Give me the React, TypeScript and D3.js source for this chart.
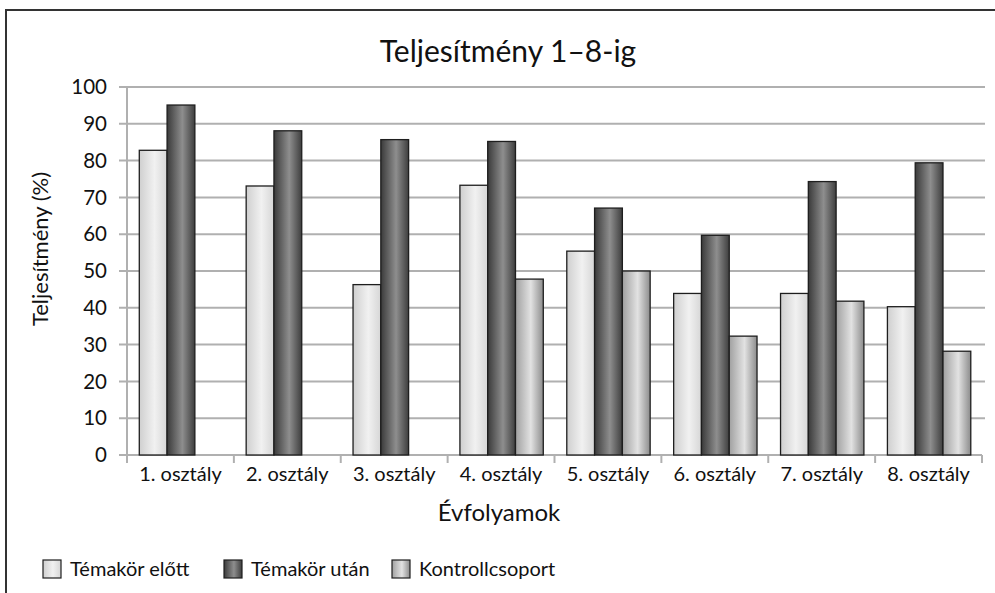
import React from "react";
import * as d3 from "d3";

const categories = [
  "1. osztály",
  "2. osztály",
  "3. osztály",
  "4. osztály",
  "5. osztály",
  "6. osztály",
  "7. osztály",
  "8. osztály",
];
const seriesNames = ["Témakör előtt", "Témakör után", "Kontrollcsoport"];
const before = [82.8, 73.1, 46.3, 73.3, 55.4, 43.9, 43.9, 40.3];
const after = [95.1, 88.1, 85.7, 85.2, 67.1, 59.7, 74.3, 79.4];
const control: (number | null)[] = [null, null, null, 47.8, 50.0, 32.3, 41.8, 28.2];
const yTicks = [0, 10, 20, 30, 40, 50, 60, 70, 80, 90, 100];

const font = "Lato, 'Open Sans', sans-serif";

// gradient stops per series: [left, mid, right]
const grads = [
  ["#cfcfcf", "#f1f1f1", "#d6d6d6"],
  ["#3a3a3a", "#8e8e8e", "#3e3e3e"],
  ["#a0a0a0", "#e2e2e2", "#8c8c8c"],
];

export default function App() {
  const W = 995;
  const H = 593;
  const m = { top: 87, right: 13, bottom: 138, left: 127 };
  const innerW = W - m.left - m.right;
  const innerH = H - m.top - m.bottom;

  const values = [before, after, control];

  const x0 = d3.scaleBand<string>().domain(categories).range([0, innerW]);
  const x1 = d3
    .scaleBand<number>()
    .domain([0, 1, 2])
    .range([x0.bandwidth() * 0.115, x0.bandwidth() * 0.895]);
  const y = d3.scaleLinear().domain([0, 100]).range([innerH, 0]);

  return (
    <svg width={W} height={H} style={{ display: "block", position: "absolute", left: 0, top: 0 }}>
      <defs>
        {grads.map((g, i) => (
          <linearGradient key={i} id={`g${i}`} x1="0" x2="1" y1="0" y2="0">
            <stop offset="0%" stopColor={g[0]} />
            <stop offset="55%" stopColor={g[1]} />
            <stop offset="100%" stopColor={g[2]} />
          </linearGradient>
        ))}
      </defs>
      <rect x={0} y={0} width={W} height={H} fill="#fff" />
      <rect x={6} y={10} width={W + 10} height={H + 10} fill="none" stroke="#333" strokeWidth={2} />

      <text x={508} y={62} textAnchor="middle" fontFamily={font} fontSize={30} fill="#111">
        Teljesítmény 1–8-ig
      </text>

      <g transform={`translate(${m.left},${m.top})`}>
        {yTicks.map((t) => (
          <g key={t} transform={`translate(0,${y(t)})`}>
            <line x1={-8} x2={t === 0 ? innerW : innerW + 3} stroke="#b0b0b0" strokeWidth={2} />
            <text x={-20} dy="0.35em" textAnchor="end" fontFamily={font} fontSize={20.5} fill="#111">
              {t}
            </text>
          </g>
        ))}
        <line x1={0} x2={0} y1={0} y2={innerH} stroke="#b0b0b0" strokeWidth={2} />
        {categories.map((c, i) => (
          <g key={c}>
            <line
              x1={x0(c)! + x0.bandwidth()}
              x2={x0(c)! + x0.bandwidth()}
              y1={innerH}
              y2={innerH + 8}
              stroke="#b0b0b0"
              strokeWidth={2}
            />
            {i === 0 && <line x1={0} x2={0} y1={innerH} y2={innerH + 8} stroke="#b0b0b0" strokeWidth={2} />}
            <text
              x={x0(c)! + x0.bandwidth() / 2}
              y={innerH + 26}
              textAnchor="middle"
              fontFamily={font}
              fontSize={20}
              fill="#111"
            >
              {c}
            </text>
          </g>
        ))}
        {categories.map((c, i) => (
          <g key={c} transform={`translate(${x0(c)},0)`}>
            {values.map((s, k) => {
              const v = s[i];
              if (v == null) return null;
              return (
                <rect
                  key={k}
                  x={x1(k)}
                  y={y(v)}
                  width={x1.bandwidth()}
                  height={innerH - y(v)}
                  fill={`url(#g${k})`}
                  stroke="#1e1e1e"
                  strokeWidth={1.3}
                />
              );
            })}
          </g>
        ))}
      </g>

      <text x={499} y={521} textAnchor="middle" fontFamily={font} fontSize={24} fill="#111">
        Évfolyamok
      </text>
      <text
        transform={`translate(48,249) rotate(-90)`}
        textAnchor="middle"
        fontFamily={font}
        fontSize={22}
        fill="#111"
      >
        Teljesítmény (%)
      </text>

      {seriesNames.map((s, k) => {
        const lx = [43, 224, 392][k];
        return (
          <g key={s} transform={`translate(${lx},560)`}>
            <rect x={0} y={0} width={18} height={18} fill={`url(#g${k})`} stroke="#1e1e1e" strokeWidth={1.2} />
            <text x={27} y={16} fontFamily={font} fontSize={20} fill="#111">
              {s}
            </text>
          </g>
        );
      })}
    </svg>
  );
}
